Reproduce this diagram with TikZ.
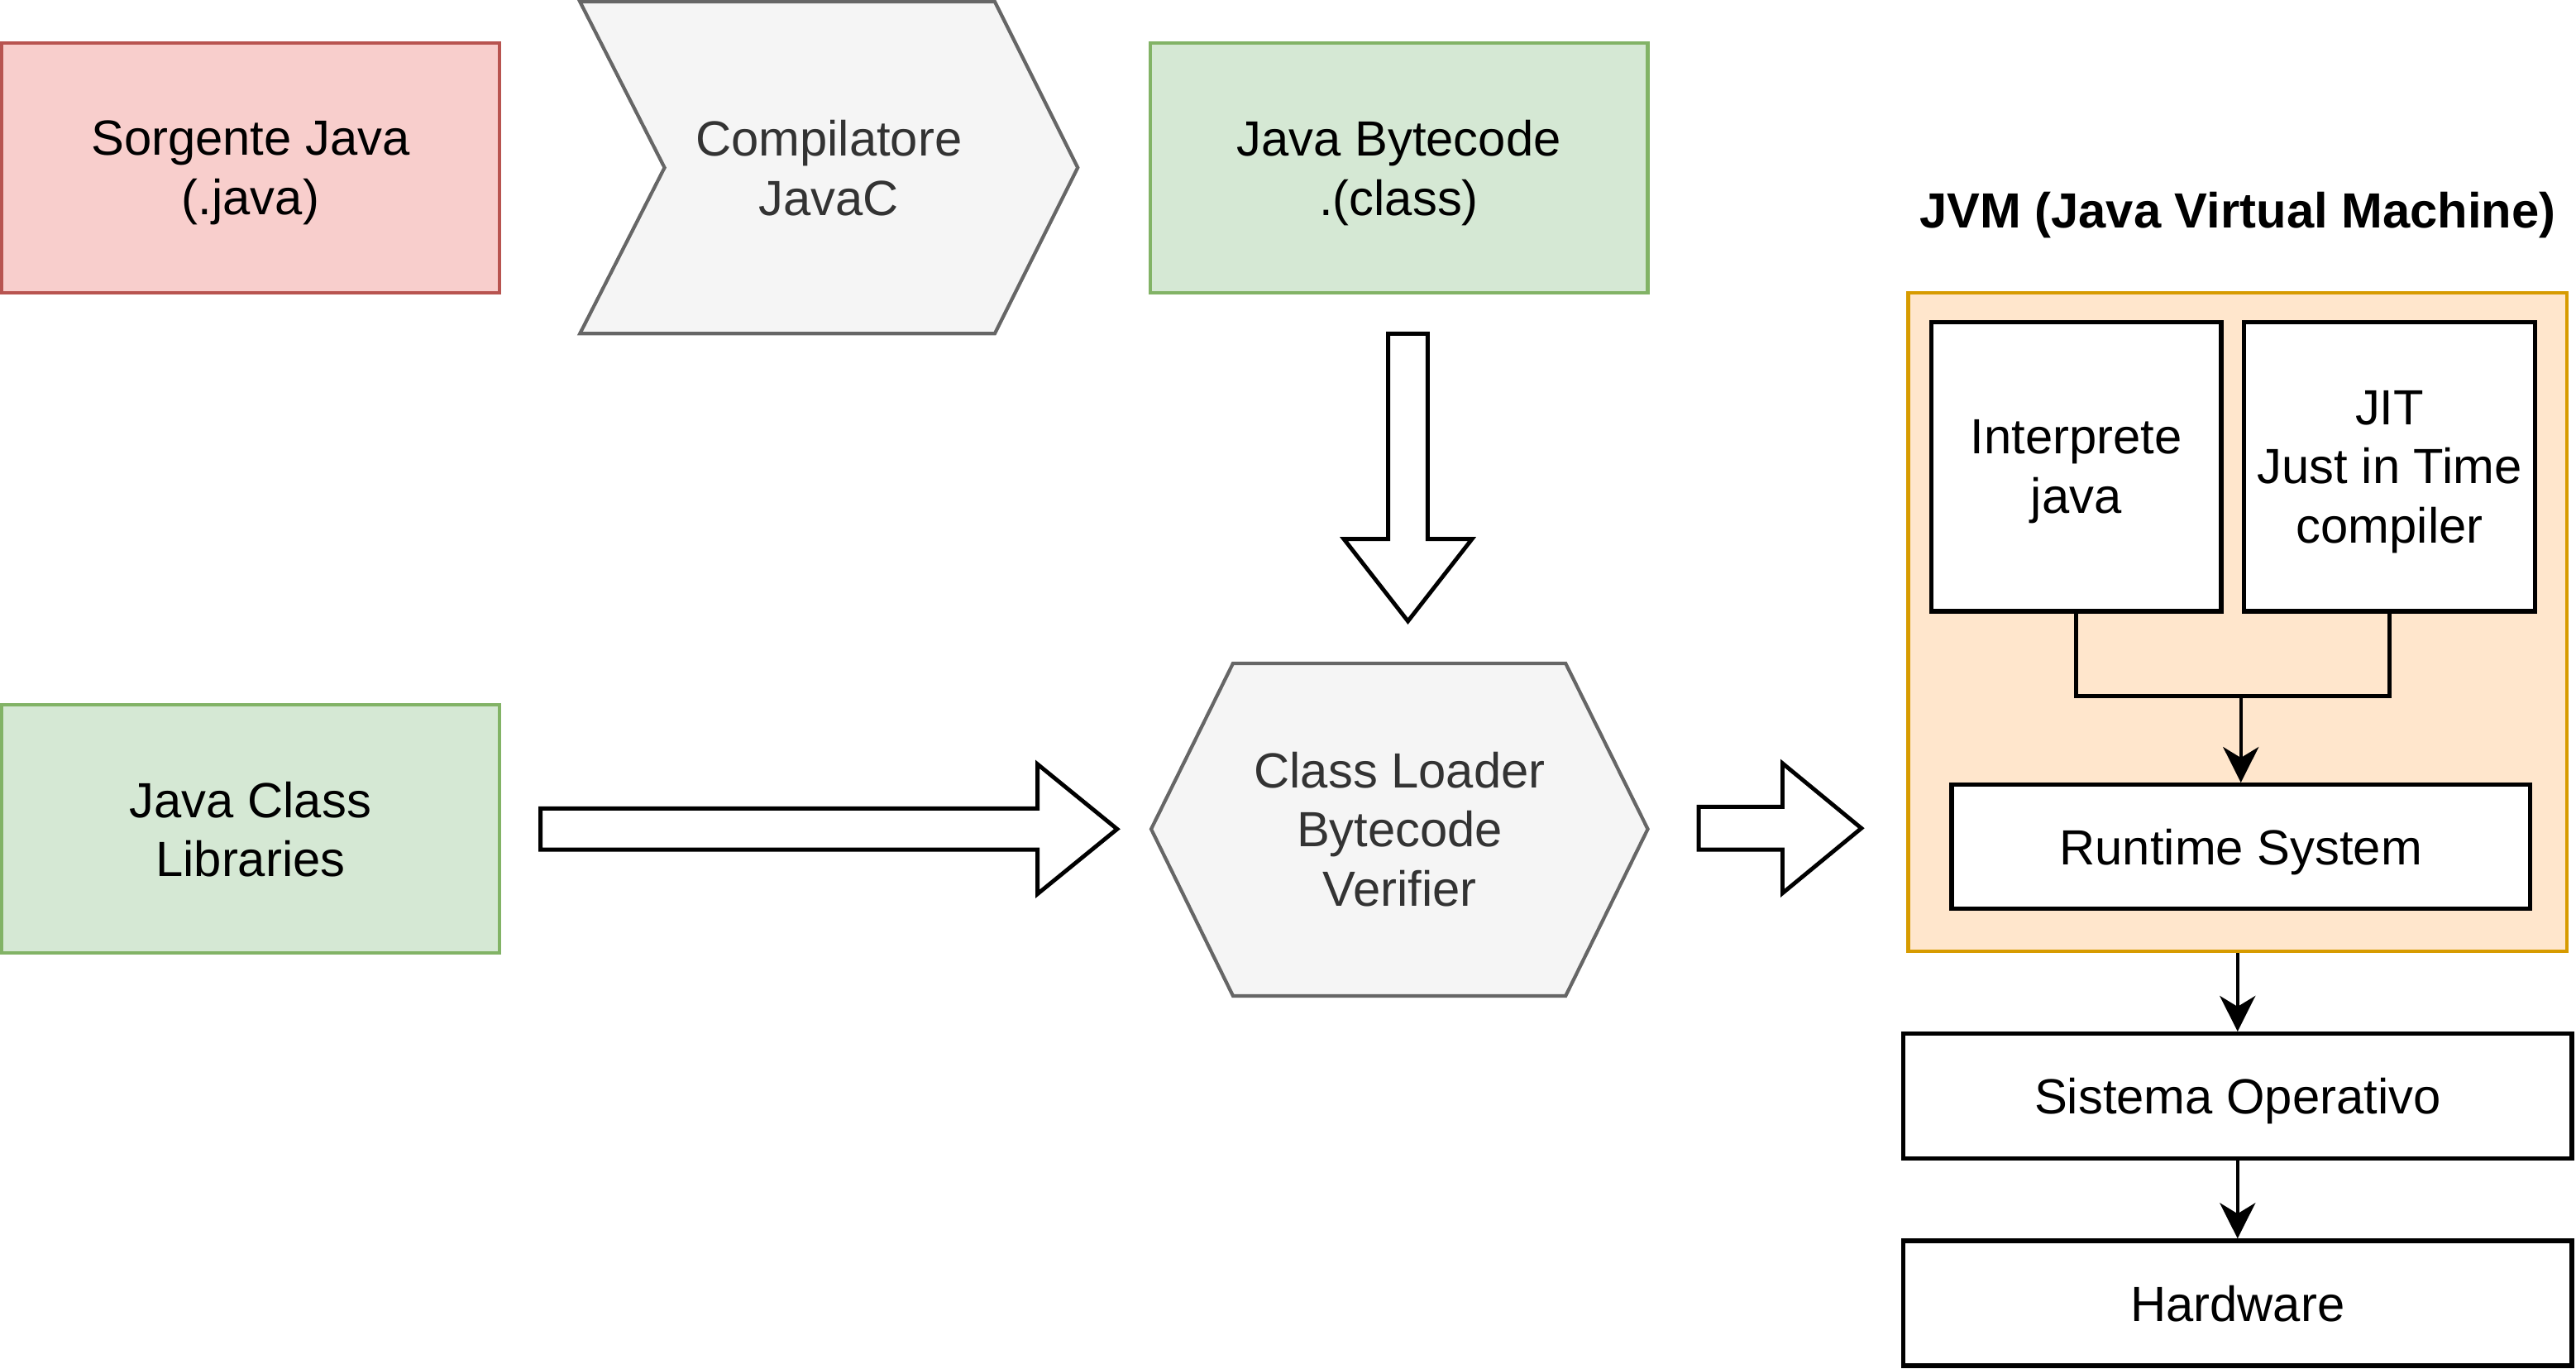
\documentclass[tikz,border=0pt]{standalone}
\usepackage{fontspec}
\setmainfont{Liberation Sans}
\usepackage{tikz}
\usetikzlibrary{positioning,arrows.meta}
\newcommand{\dpx}{0.19866mm}
\definecolor{srcfill}{HTML}{F8CECC}
\definecolor{srcline}{HTML}{B85450}
\definecolor{libfill}{HTML}{D5E8D4}
\definecolor{libline}{HTML}{82B366}
\definecolor{grayfill}{HTML}{F5F5F5}
\definecolor{grayline}{HTML}{666666}
\definecolor{grayfont}{HTML}{333333}
\definecolor{jvmfill}{HTML}{FFE6CC}
\definecolor{jvmline}{HTML}{D79B00}
\tikzset{
  base/.style={font=\fontsize{17pt}{20.4pt}\selectfont, align=center, inner sep=0pt, text depth=0pt},
  redbox/.style={base, draw=srcline, fill=srcfill, line width=1.2pt,
    minimum width=303*\dpx, minimum height=152*\dpx},
  greenbox/.style={base, draw=libline, fill=libfill, line width=1.2pt,
    minimum width=303*\dpx, minimum height=152*\dpx},
  plainbox/.style={base, draw=black, fill=white, line width=1.5pt},
  graytext/.style={base, text=grayfont},
  grayshape/.style={draw=grayline, fill=grayfill, line width=1.2pt},
  blockline/.style={draw=black, fill=white, line width=1.4pt, line join=miter},
  wire/.style={line width=1.2pt},
  flow/.style={wire, -{Stealth[length=4.3mm, width=4.3mm, inset=1.3mm]}},
  pics/block arrow/.style n args={4}{
    code = {
        \draw [blockline] (0,-#2) -- ({#1-#4},-#2) -- ({#1-#4},-#3) -- (#1,0)
            -- ({#1-#4},#3) -- ({#1-#4},#2) -- (0,#2) -- cycle;
    }
  }
}
\begin{document}
\begin{tikzpicture}[x=\dpx, y=-\dpx]
            \useasboundingbox (0,0) rectangle (1568,833);

            % source side
            \node [redbox] (src) at (152.5,102) {Sorgente Java\\(.java)};
            \draw [grayshape] (353,1) -- (605.5,1) -- (656,102) -- (605.5,203)
                -- (353,203) -- (404.5,102) -- cycle;
            \node [graytext] (javac) at (504.5,102) {Compilatore\\JavaC};
            \node [greenbox] (bytecode) at (851.5,102) {Java Bytecode\\.(class)};
            \node [greenbox, minimum height=151*\dpx] (libs) at (152.5,504.5) {Java Class\\Libraries};

            % loader
            \draw [grayshape] (700.7,504.5) -- (750.5,403.7) -- (953,403.7) -- (1003,504.5)
                -- (953,606) -- (750.5,606) -- cycle;
            \node [graytext] (loader) at (852,504.5) {Class Loader\\Bytecode\\Verifier};

            \pic [rotate=-90] (feed) at (857,203) {block arrow={175}{12}{39}{50}};
            \pic (link) at (329,504.5) {block arrow={351}{12.5}{39.5}{48.5}};
            \pic (run) at (1034,504) {block arrow={99}{13}{39.5}{48}};

            % JVM
            \node [base, font=\fontsize{17pt}{20.4pt}\selectfont\bfseries] (title) at (1362,128) {JVM (Java Virtual Machine)};
            \node [draw=jvmline, fill=jvmfill, line width=1.2pt, minimum width=401*\dpx,
                minimum height=401*\dpx] (jvm) at (1362,378.5) {};
            \node [plainbox, minimum width=176.5*\dpx, minimum height=176*\dpx] (interp) at (1263.75,284) {Interprete\\java};
            \node [plainbox, minimum width=177*\dpx, minimum height=176*\dpx] (jit) at (1454.5,284) {JIT\\Just in Time\\compiler};
            \node [plainbox, minimum width=352*\dpx, minimum height=75.5*\dpx] (runtime) at (1364,515.3) {Runtime System};
            \path (runtime.north) ++(0,-52.6) coordinate (join);
            \draw [wire] (interp.south) |- (join) -| (jit.south);
            \draw [flow] (join) -- (runtime.north);

            % below the JVM
            \node [plainbox, minimum width=407*\dpx, minimum height=76*\dpx] (os) at (1362,667) {Sistema Operativo};
            \node [plainbox, minimum width=407*\dpx, minimum height=76*\dpx] (hw) at (1362,793) {Hardware};
            \draw [flow] (jvm.south) -- (os.north);
            \draw [flow] (os.south) -- (hw.north);
        \end{tikzpicture}
\end{document}
